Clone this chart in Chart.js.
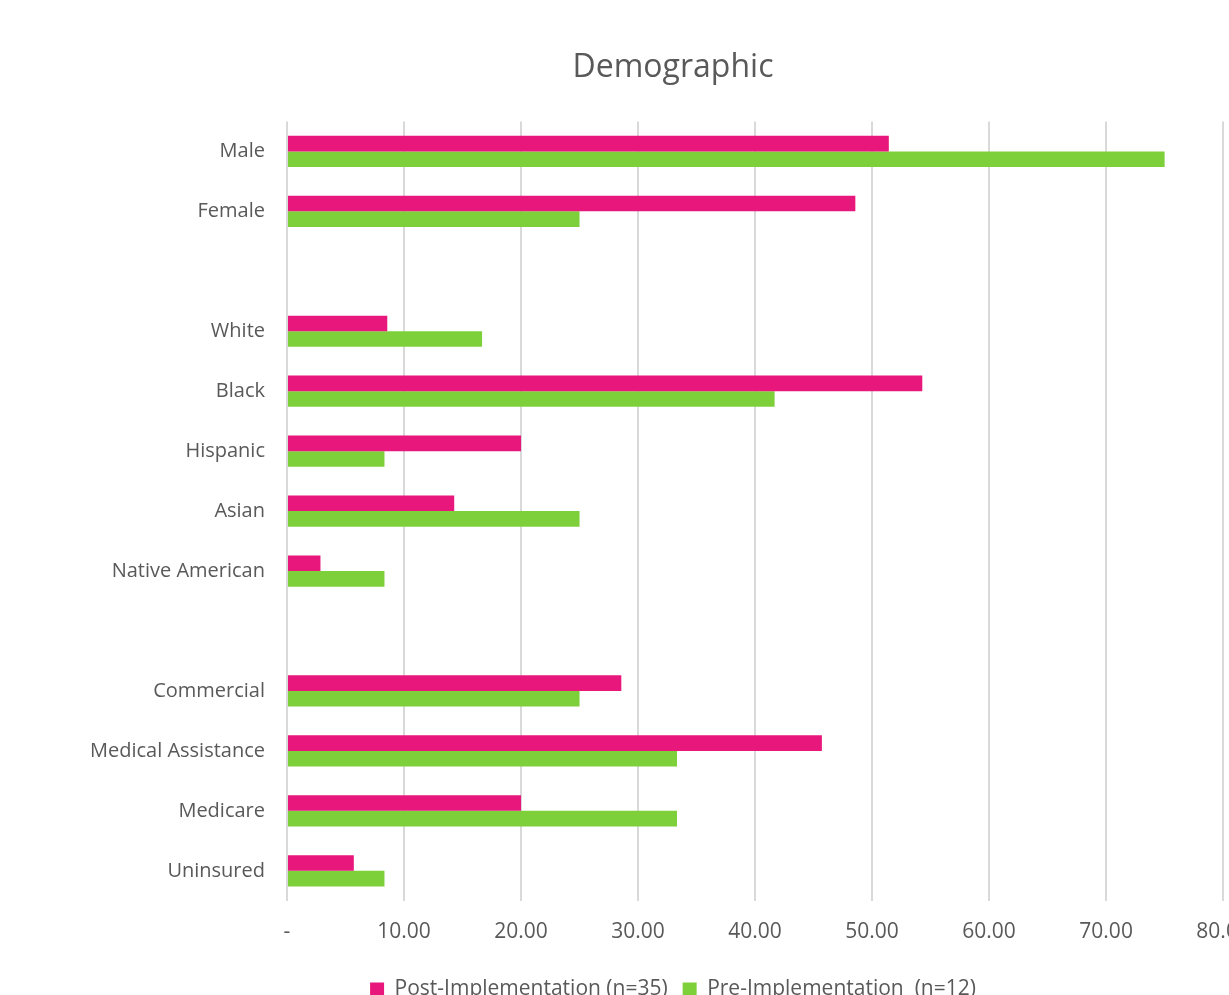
<!DOCTYPE html>
<html>
<head>
<meta charset="utf-8">
<script src="https://cdn.jsdelivr.net/npm/chart.js@4/dist/chart.umd.min.js"></script>
<style>
  html, body { margin: 0; padding: 0; background: #fff; overflow: hidden; }
  #wrap { position: relative; width: 1346px; height: 1010px; }
</style>
</head>
<body>
<div id="wrap"><canvas id="demoChart"></canvas></div>
<script>
// ==========================================
// DATA
// ==========================================
const categories = [
  "Male", "Female", "",
  "White", "Black", "Hispanic", "Asian", "Native American", "",
  "Commercial", "Medical Assistance", "Medicare", "Uninsured"
];
const postValues = [51.43, 48.57, null, 8.57, 54.29, 20.0, 14.29, 2.86, null, 28.57, 45.71, 20.0, 5.71];
const preValues = [75.0, 25.0, null, 16.67, 41.67, 8.33, 25.0, 8.33, null, 25.0, 33.33, 33.33, 8.33];
const xTicks = [0, 10, 20, 30, 40, 50, 60, 70, 80];

const textColor = "#595959";
const fontFamily = "'Open Sans', sans-serif";

// the original plot runs on past the visible 80 line (chart is cropped on the right)
const xMax = 90.5;

// ==========================================
// CHART
// ==========================================
function initChart() {
  const ctx = document.getElementById("demoChart");

  new Chart(ctx.getContext("2d"), {
    type: "bar",
    data: {
      labels: categories,
      datasets: [
        {
          label: "Post-Implementation (n=35)",
          data: postValues,
          backgroundColor: "#E8177C",
          borderWidth: 0,
        },
        {
          label: "Pre-Implementation  (n=12)",
          data: preValues,
          backgroundColor: "#7ED03A",
          borderWidth: 0,
        },
      ],
    },
    options: {
      indexAxis: "y",
      responsive: true,
      maintainAspectRatio: false,
      animation: false,
      datasets: {
        bar: { categoryPercentage: 0.52, barPercentage: 1.0 },
      },
      layout: { padding: 0 },
      plugins: {
        title: {
          display: true,
          text: "Demographic",
          color: textColor,
          font: { family: fontFamily, size: 32, weight: "normal" },
          padding: { top: 49, bottom: 34 },
        },
        legend: {
          position: "bottom",
          labels: {
            color: textColor,
            font: { family: fontFamily, size: 21 },
            boxWidth: 14,
            boxHeight: 14,
            padding: 15,
          },
        },
        tooltip: { enabled: false },
      },
      scales: {
        x: {
          min: 0,
          max: xMax,
          afterBuildTicks: (axis) => {
            axis.ticks = xTicks.map((v) => ({ value: v }));
          },
          grid: { color: "#d9d9d9", lineWidth: 2, drawTicks: false },
          border: { display: false },
          ticks: {
            color: textColor,
            font: { family: fontFamily, size: 21 },
            padding: 19,
            maxRotation: 0,
            callback: (value) => (value === 0 ? "-" : value.toFixed(2)),
          },
        },
        y: {
          grid: { display: false, drawTicks: false },
          border: { display: false },
          afterFit: (axis) => {
            axis.width = 287;
          },
          ticks: {
            color: textColor,
            font: { family: fontFamily, size: 20 },
            padding: 22,
            autoSkip: false,
          },
        },
      },
    },
  });
}

document.addEventListener("DOMContentLoaded", initChart);
</script>
</body>
</html>
